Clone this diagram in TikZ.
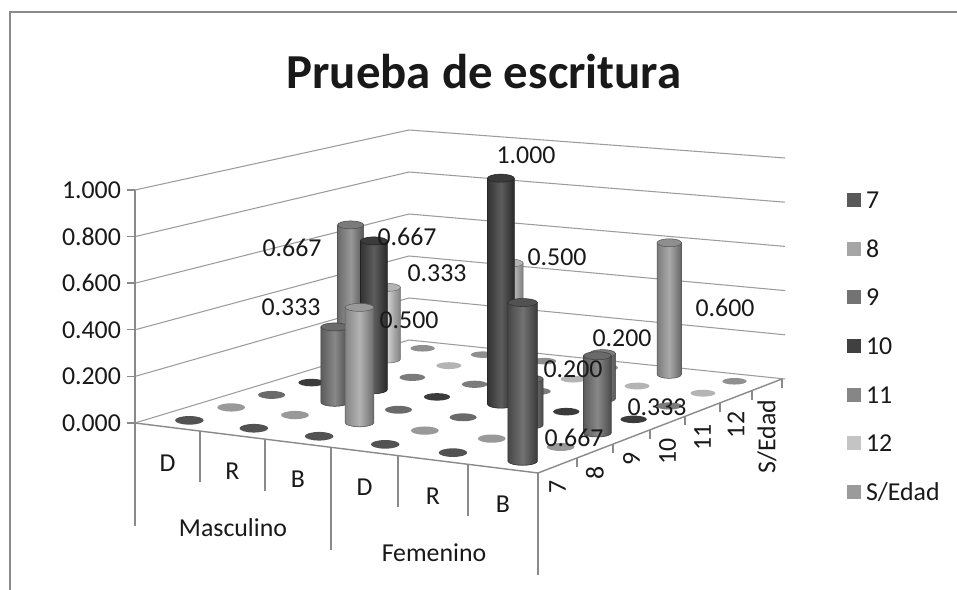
\documentclass[tikz,border=0pt]{standalone}
\usepackage{fontspec}
\setmainfont{Carlito}
\usepackage{tikz}
\usetikzlibrary{calc}

\definecolor{ser7}{HTML}{595959}
\definecolor{ser8}{HTML}{A6A6A6}
\definecolor{ser9}{HTML}{737373}
\definecolor{ser10}{HTML}{404040}
\definecolor{ser11}{HTML}{868686}
\definecolor{ser12}{HTML}{C4C4C4}
\definecolor{serSE}{HTML}{9B9B9B}
\definecolor{gridgray}{HTML}{9C9C9C}
\definecolor{axisgray}{HTML}{8A8A8A}

\tikzset{
  every node/.style={font=\fontsize{14.7}{17}\selectfont, text=black!90, inner sep=1pt},
  gridline/.style={gridgray, line width=0.6pt},
  axisline/.style={axisgray, line width=0.8pt},
  chartframe/.style={axisgray, line width=1.4pt},
  legendkey/.style={minimum size=0.28cm, inner sep=0pt},
}

% punto del suelo (u,v) -> \barx, \bary y escala vertical \bars
\newcommand{\floorpt}[2]{%
  \pgfmathsetmacro\barx{(1-#2)*((1-#1)*135+#1*538)+#2*((1-#1)*409+#1*782)}%
  \pgfmathsetmacro\bary{(1-#2)*((1-#1)*423+#1*473)+#2*((1-#1)*340+#1*379)}%
  \pgfmathsetmacro\bars{(1-#2)*((1-#1)*233+#1*240)+#2*((1-#1)*210+#1*221)}%
}

% cilindro: u, v, valor, color
\newcommand{\cylbar}[4]{%
  \floorpt{#1}{#2}%
  \pgfmathsetmacro\barr{15-3*#2}%
  \pgfmathsetmacro\bartop{\bary-#3*\bars}%
  \draw[#4!55!black, line width=0.3pt, left color=#4!80!black, right color=#4!65!black, middle color=#4!85!white]
    (\barx-\barr,\bartop) -- (\barx-\barr,\bary)
    arc[start angle=180, end angle=0, x radius=\barr, y radius=4] -- (\barx+\barr,\bartop) -- cycle;
  \draw[#4!55!black, line width=0.3pt, fill=#4!92!black] (\barx,\bartop) ellipse[x radius=\barr, y radius=4];
}

\begin{document}
\begin{tikzpicture}[x=0.02cm, y=-0.02cm]

\useasboundingbox (0,0) rectangle (957,590);
\fill[white] (0,0) rectangle (957,590);
\draw[chartframe] (10,590) -- (10,12) -- (957,12);

\node[font=\bfseries\fontsize{27.8}{32}\selectfont] (title) at (484,72) {Prueba de escritura};

% paredes y eje vertical
\foreach \k/\t in {0/0.000, 1/0.200, 2/0.400, 3/0.600, 4/0.800, 5/1.000}
{
  \draw[gridline] (135,{423-46.6*\k}) -- (409,{340-42*\k}) -- (785,{379-44.2*\k});
  \draw[axisline] (127,{423-46.6*\k}) -- (135,{423-46.6*\k});
  \node[anchor=east] (ytick-\k) at (123,{423-46.6*\k}) {\t};
}
\draw[axisline] (135,190) -- (135,526);

% eje de categorias
\draw[axisline] (135,423) -- (538,473);
\foreach \x/\ylow in {200/482, 265/491, 331/550, 398/507, 468/516, 538/575}
  \draw[axisline] (\x,{423+(\x-135)*0.1241}) -- (\x,\ylow);

\foreach \xl/\xr/\t [count=\i] in {135/200/D, 200/265/R, 265/331/B, 331/398/D, 398/468/R, 468/538/B}
  \node (cat-\i) at ({(\xl+\xr)/2},{459+((\xl+\xr)/2-135)*0.1241}) {\t};

\node (grp-1) at (233,528) {Masculino};
\node (grp-2) at (434,553) {Femenino};

% eje de edades
\draw[axisline] (538,473) -- (782,379);
\foreach \x in {577,613,650,685,720,752,782}
  \draw[axisline] (\x,{473-(\x-538)*0.3852}) -- (\x,{482-(\x-538)*0.3852});

\foreach \x/\t [count=\j] in {557.5/7, 595/8, 631.5/9, 667.5/10, 702.5/11, 736/12, 767/{S/Edad}}
  \node[rotate=90, anchor=east] (age-\j) at (\x,{486-(\x-538)*0.3852}) {\t};

% discos del suelo
\foreach \v/\ser in {0.939/serSE, 0.811/ser12, 0.674/ser11, 0.53/ser10, 0.383/ser9, 0.234/ser8, 0.08/ser7}
  \foreach \u in {0.081,0.242,0.405,0.570,0.739,0.913}
  {
    \floorpt{\u}{\v}
    \pgfmathsetmacro\barr{14.5-2.5*\v}
    \pgfmathsetmacro\barh{4.4-1.2*\v}
    \fill[\ser!92!black] (\barx,\bary) ellipse[x radius=\barr, y radius=\barh];
  }

% cilindros, de atras hacia delante
\foreach \u/\v/\val/\ser in {0.081/0.811/0.333/ser12, 0.081/0.674/0.667/ser11,
    0.405/0.811/0.5/ser12, 0.739/0.939/0.6/serSE, 0.242/0.53/0.667/ser10,
    0.739/0.674/0.2/ser11, 0.242/0.383/0.333/ser9, 0.570/0.53/1/ser10,
    0.405/0.234/0.5/ser8, 0.739/0.383/0.2/ser9, 0.913/0.383/0.333/ser9,
    0.913/0.08/0.667/ser7}
  \cylbar{\u}{\v}{\val}{\ser};

% etiquetas de datos
\foreach \x/\y/\t [count=\n] in {292/248/0.667, 407/237/0.667, 437/273/0.333,
    291/307/0.333, 409/320/0.500, 526/155/1.000, 557/257/0.500, 574/438/0.667,
    573/369/0.200, 622/338/0.200, 657/407/0.333, 725/308/0.600}
  \node (val-\n) at (\x,\y) {\t};

% leyenda
\foreach \c/\t [count=\n] in {ser7/7, ser8/8, ser9/9, ser10/10, ser11/11, ser12/12, serSE/{S/Edad}}
{
  \node[legendkey, fill=\c] (key-\n) at (854,{200+48.7*(\n-1)}) {};
  \node[anchor=west] (leg-\n) at (864,{200+48.7*(\n-1)}) {\t};
}

\end{tikzpicture}
\end{document}
